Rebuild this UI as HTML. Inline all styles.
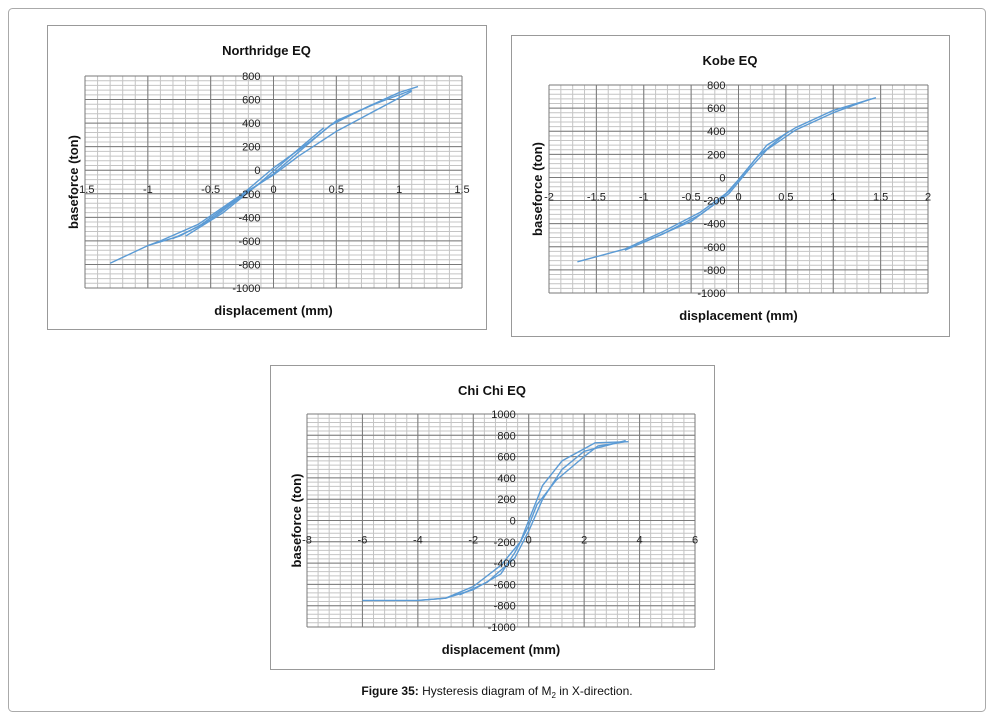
<!DOCTYPE html>
<html><head><meta charset="utf-8"><style>
body{margin:0;background:#fff;width:994px;height:721px;overflow:hidden;font-family:"Liberation Sans",sans-serif}
svg{position:absolute;left:0;top:0}
</style></head><body>
<svg id="s" width="994" height="721" xmlns="http://www.w3.org/2000/svg">
<rect x="8.5" y="8.5" width="977" height="703" rx="4" fill="#fff" stroke="#aaa"/>
<text x="497" y="695" text-anchor="middle" font-size="12" fill="#111"><tspan font-weight="bold">Figure 35:</tspan> Hysteresis diagram of M<tspan font-size="8" dy="3">2</tspan><tspan dy="-3"> in X-direction.</tspan></text>
</svg>
<script>
// Northridge data
const nrX1=[-1.3,-1.0,-0.75,-0.5,-0.25,0,0.25,0.45,0.75,1.0,1.15];
const nrY1=[-790,-640,-560,-420,-220,-30,200,380,540,660,710];
const nrX2=[1.1,0.8,0.5,0.2,0,-0.3,-0.6,-0.9,-1.0];
const nrY2=[670,500,330,120,-40,-240,-460,-600,-640];
const nrX3=[-0.8,-0.6,-0.3,0,0.3,0.5,0.8,1.1];
const nrY3=[-580,-480,-250,20,250,420,560,680];
const nrX4=[-0.7,-0.4,-0.1,0.2,0.4];
const nrY4=[-560,-360,-100,180,360];
const nrXTicks=[-1.5,-1,-0.5,0,0.5,1,1.5];
const nrYTicks=[800,600,400,200,0,-200,-400,-600,-800,-1000];
// Kobe data
const kbX1=[-1.7,-1.2,-0.8,-0.4,-0.1,0.1,0.3,0.6,1.0,1.45];
const kbY1=[-730,-620,-470,-300,-120,80,280,430,580,690];
const kbX2=[1.4,1.0,0.6,0.3,0.1,-0.1,-0.4,-0.8,-1.2];
const kbY2=[680,560,410,240,60,-140,-320,-490,-630];
const kbX3=[-1,-0.5,-0.2,0,0.2,0.5];
const kbY3=[-560,-380,-200,-20,180,380];
const kbXTicks=[-2,-1.5,-1,-0.5,0,0.5,1,1.5,2];
const kbYTicks=[800,600,400,200,0,-200,-400,-600,-800,-1000];
// Chi Chi data
const ccX1=[-6,-4,-3,-2,-1,-0.3,0,0.5,1.2,2.4,3.6];
const ccY1=[-750,-750,-730,-620,-420,-200,0,330,560,730,740];
const ccX2=[3.5,2.5,2,1,0.3,0,-0.5,-1,-2,-3,-4];
const ccY2=[740,700,600,380,150,-50,-300,-500,-650,-730,-750];
const ccX3=[-2.5,-1.5,-0.5,0,0.5,1.2,2,3.5];
const ccY3=[-700,-580,-350,-100,200,480,650,750];
const ccXTicks=[-8,-6,-4,-2,0,2,4,6];
const ccYTicks=[1000,800,600,400,200,0,-200,-400,-600,-800,-1000];

const NS="http://www.w3.org/2000/svg";
const svg=document.getElementById('s');
function el(t,a,p){const e=document.createElementNS(NS,t);for(const k in a)e.setAttribute(k,a[k]);(p||svg).appendChild(e);return e;}

function chart(c){
  const g=el('g',{});
  
  
  const box=el('rect',{x:c.bx+.5,y:c.by+.5,width:c.bw,height:c.bh,fill:'#fff',stroke:'#999'},g);
  
  
  const xmin=c.xt[0],xmax=c.xt[c.xt.length-1],ymax=c.yt[0],ymin=c.yt[c.yt.length-1];
  const sx=v=>c.px+(v-xmin)/(xmax-xmin)*c.pw;
  const sy=v=>c.py+(ymax-v)/(ymax-ymin)*c.ph;
  // minor grid
  for(let v=ymin;v<=ymax+1e-9;v+=c.ym){const y=sy(v);const l=el('line',{x1:c.px,x2:c.px+c.pw,y1:y,y2:y,stroke:'#c4c4c4','stroke-width':1},g);}
  for(let v=xmin;v<=xmax+1e-9;v+=c.xm){const x=sx(v);const l=el('line',{x1:x,x2:x,y1:c.py,y2:c.py+c.ph,stroke:'#c4c4c4','stroke-width':1},g);}
  c.yt.forEach(v=>{const y=sy(v);const l=el('line',{x1:c.px,x2:c.px+c.pw,y1:y,y2:y,stroke:'#7a7a7a','stroke-width':1},g);});
  c.xt.forEach(v=>{const x=sx(v);const l=el('line',{x1:x,x2:x,y1:c.py,y2:c.py+c.ph,stroke:'#7a7a7a','stroke-width':1},g);});
  // series
  c.series.forEach((s,i)=>{
    const pts=s[0].map((x,j)=>sx(x).toFixed(1)+','+sy(s[1][j]).toFixed(1)).join(' ');
    const p=el('polyline',{points:pts,fill:'none',stroke:'#5b9bd5','stroke-width':1.4,'stroke-linejoin':'round'},g);
    
    
  });
  const x0=sx(0),y0=sy(0);
  c.yt.forEach(v=>{const t=el('text',{x:x0-13,y:sy(v)+4,'text-anchor':'end','font-size':11,fill:'#222'},g);t.textContent=v;});
  c.xt.forEach(v=>{const t=el('text',{x:sx(v),y:y0+23,'text-anchor':'middle','font-size':11,fill:'#222'},g);t.textContent=v;});
  const tt=el('text',{x:c.bx+c.bw/2,y:c.by+30,'text-anchor':'middle','font-size':13,'font-weight':'bold',fill:'#111'},g);tt.textContent=c.title;
  
  const xt=el('text',{x:c.px+c.pw/2,y:c.py+c.ph+27,'text-anchor':'middle','font-size':13,'font-weight':'bold',fill:'#111'},g);xt.textContent='displacement (mm)';
  
  const yx=c.bx+31,yy=c.py+c.ph/2;
  const yt=el('text',{x:yx,y:yy,'text-anchor':'middle','font-size':13,'font-weight':'bold',fill:'#111',transform:'rotate(-90 '+yx+' '+yy+')'},g);yt.textContent='baseforce (ton)';
  
}
chart({name:'northridge',title:'Northridge EQ',bx:47,by:25,bw:439,bh:304,px:85,py:76,pw:377,ph:212,xt:nrXTicks,yt:nrYTicks,xm:0.1,ym:40,
  series:[[nrX1,nrY1],[nrX2,nrY2],[nrX3,nrY3],[nrX4,nrY4]]});
chart({name:'kobe',title:'Kobe EQ',bx:511,by:35,bw:438,bh:301,px:549,py:85,pw:379,ph:208,xt:kbXTicks,yt:kbYTicks,xm:0.125,ym:40,
  series:[[kbX1,kbY1],[kbX2,kbY2],[kbX3,kbY3]]});
chart({name:'chichi',title:'Chi Chi EQ',bx:270,by:365,bw:444,bh:304,px:307,py:414,pw:388,ph:213,xt:ccXTicks,yt:ccYTicks,xm:0.4,ym:40,
  series:[[ccX1,ccY1],[ccX2,ccY2],[ccX3,ccY3]]});
</script>
</body></html>
